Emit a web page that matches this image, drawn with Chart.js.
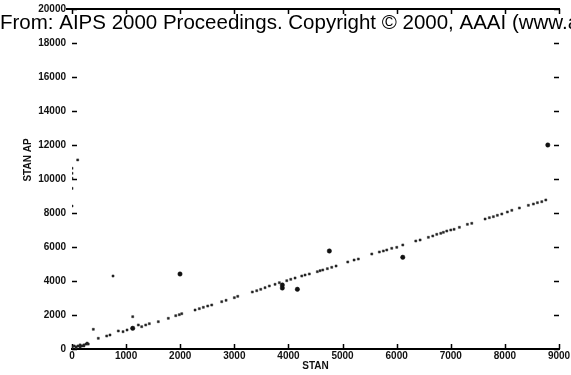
<!DOCTYPE html>
<html><head><meta charset="utf-8">
<script src="https://cdn.jsdelivr.net/npm/chart.js@4/dist/chart.umd.min.js"></script>
<style>html,body{margin:0;padding:0;background:#fff;overflow:hidden}#wrap{width:571px;height:375px}</style>
</head><body><div id="wrap"><canvas id="c" width="571" height="375"></canvas></div>
<script>
// ---- data ----
const stanX = [
  0,40,75,110,150,185,220,260,300,0,75,150,220,280,
  0,0,0,0,0,105,
  394,486,641,702,856,943,1017,1122,1226,758,
  1288,1362,1429,1595,1780,1917,1983,2028,2274,2353,2427,2508,2582,2767,2847,3000,3063,
  3333,3414,3488,3567,3647,3752,3832,3969,4043,4122,4246,4307,4386,4534,4584,4634,4719,
  4800,4880,5096,5213,5292,5540,5680,5754,5817,5909,6002,6113,6353,6433,6586,6667,6741,
  6815,6863,6926,7000,7061,7159,7307,7388,7634,7713,7787,7861,7943,8046,8128,8268,8434,
  8527,8601,8682,8756
];
const stanApY = [
  120,180,120,180,240,180,240,290,290,30,30,120,180,350,
  10630,10335,10040,9450,8410,11120,
  1160,630,765,824,1060,1018,1118,1900,1412,4294,
  1312,1412,1488,1606,1806,1959,2018,2076,2294,2371,2453,2529,2588,2782,2865,3018,3100,
  3353,3429,3512,3606,3706,3806,3900,4018,4100,4176,4294,4353,4412,4547,4606,4647,4724,
  4806,4882,5118,5235,5294,5588,5706,5765,5824,5924,5982,6118,6353,6412,6571,6647,6747,
  6806,6865,6941,7000,7041,7159,7335,7394,7647,7724,7782,7865,7941,8059,8159,8294,8453,
  8529,8606,8665,8765
];
const markedX = [8793,4756,3887,3887,4165,6113,1996,1122];
const markedY = [12000,5765,3765,3588,3512,5394,4412,1218];
const xTickValues = [0,1000,2000,3000,4000,5000,6000,7000,8000,9000];
const yTickValues = [0,2000,4000,6000,8000,10000,12000,14000,16000,18000,20000];
const xTitle = 'STAN';
const yTitle = 'STAN AP';
const overlayText = 'From: AIPS 2000 Proceedings. Copyright \u00A9 2000, AAAI (www.aaai.org). All rights reserved.';

const toPts = (xs, ys) => xs.map((x, i) => ({x: x, y: ys[i]}));
const FONT = '"Liberation Sans", Arial, sans-serif';

const framePlugin = {
  id: 'frame',
  beforeDatasetsDraw(chart) {
    const {ctx, chartArea: a, scales: {x, y}} = chart;
    ctx.save();
    ctx.strokeStyle = '#000';
    ctx.lineWidth = 2;
    ctx.beginPath();
    ctx.moveTo(a.left - 6, a.top); ctx.lineTo(a.right + 1, a.top);
    ctx.stroke();
    ctx.lineWidth = 1.5;
    ctx.beginPath();
    xTickValues.forEach(v => {
      const px = Math.round(x.getPixelForValue(v)) + 0.5;
      ctx.moveTo(px, a.bottom); ctx.lineTo(px, a.bottom - 5);
      ctx.moveTo(px, a.top); ctx.lineTo(px, a.top + 5);
    });
    yTickValues.forEach(v => {
      const py = Math.round(y.getPixelForValue(v)) + 0.5;
      ctx.moveTo(a.left, py); ctx.lineTo(a.left + 5, py);
      ctx.moveTo(a.right - 5, py); ctx.lineTo(a.right, py);
    });
    ctx.stroke();
    // y title
    ctx.fillStyle = '#111';
    ctx.font = 'bold 10px ' + FONT;
    ctx.textAlign = 'center';
    ctx.textBaseline = 'middle';
    ctx.translate(28, 160);
    ctx.rotate(-Math.PI / 2);
    ctx.fillText(yTitle, 0, 0);
    ctx.restore();
  },
  afterDraw(chart) {
    const ctx = chart.ctx;
    ctx.save();
    ctx.fillStyle = '#000';
    ctx.font = '20.5px ' + FONT;
    ctx.textAlign = 'left';
    ctx.textBaseline = 'alphabetic';
    ctx.fillText(overlayText, 0, 29);
    ctx.restore();
  }
};

new Chart(document.getElementById('c'), {
  type: 'scatter',
  data: {
    datasets: [
      {data: toPts(stanX, stanApY), pointStyle: 'rect', pointRadius: 1.5, borderWidth: 0.4,
       backgroundColor: '#222', borderColor: '#222'},
      {data: toPts(markedX, markedY), pointStyle: 'circle', pointRadius: 2.2, borderWidth: 0.5,
       backgroundColor: '#111', borderColor: '#111'}
    ]
  },
  options: {
    responsive: false,
    animation: false,
    events: [],
    layout: {padding: {top: 9, right: 12, left: 0, bottom: 0}},
    plugins: {legend: {display: false}, tooltip: {enabled: false}},
    scales: {
      x: {
        type: 'linear', min: 0, max: 9000,
        afterBuildTicks: s => { s.ticks = xTickValues.map(v => ({value: v})); },
        afterFit: s => { s.height = 26; s.paddingLeft = 0; s.paddingRight = 0; },
        grid: {display: false, drawTicks: false},
        border: {display: true, color: '#000', width: 2},
        ticks: {padding: 1, color: '#111', font: {family: FONT, size: 10, weight: 'bold'},
                maxRotation: 0, autoSkip: false, callback: v => String(v)},
        title: {display: true, text: xTitle, color: '#111',
                font: {family: FONT, size: 10, weight: 'bold'}, padding: {top: 0, bottom: 3}}
      },
      y: {
        type: 'linear', min: 0, max: 20000,
        afterBuildTicks: s => { s.ticks = yTickValues.map(v => ({value: v})); },
        afterFit: s => { s.width = 72; s.paddingTop = 0; s.paddingBottom = 0; },
        grid: {display: false, drawTicks: false},
        border: {display: false},
        ticks: {padding: 6, color: '#111', font: {family: FONT, size: 10, weight: 'bold'},
                autoSkip: false, callback: v => String(v)}
      }
    }
  },
  plugins: [framePlugin]
});
</script>
</body></html>
